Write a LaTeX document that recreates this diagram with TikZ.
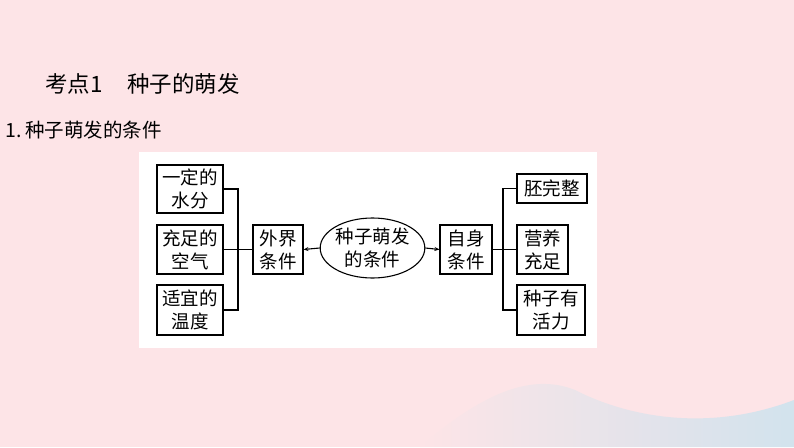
\documentclass[tikz,border=0pt]{standalone}
\usepackage{fontspec}
\setmainfont{Noto Sans CJK SC}
\usetikzlibrary{arrows.meta}
\usetikzlibrary{shapes.geometric}
\usepackage{xcolor}
\definecolor{pinkBg}{HTML}{FDE4E7}
\definecolor{blueBg}{HTML}{D2E3ED}

\begin{document}
\begin{tikzpicture}[
    x=1pt, y=-1pt,
    box/.style={draw, line width=1.1pt, inner sep=0pt, align=center,
        font=\fontsize{18.5}{23}\selectfont},
    oval/.style={ellipse, draw, line width=1.1pt, inner sep=0pt, align=center,
        minimum width=101pt, minimum height=60pt,
        font=\fontsize{18.5}{23}\selectfont},
    link/.style={line width=1.1pt},
    arr/.style={-{Stealth[length=5pt,width=4pt]}, line width=1.1pt},
]
\useasboundingbox (0,0) rectangle (794,447);

% Background
\fill[pinkBg] (0,0) rectangle (794,447);
\shade[left color=pinkBg, right color=blueBg] (420,447) .. controls (480,395) and (530,372) .. (575,390)
    .. controls (630,418) and (710,432) .. (794,400) -- (794,447) -- cycle;
\fill[white] (139,152) rectangle (597,348);

% Headings
\node[anchor=west, inner sep=0pt, font=\fontsize{22.5}{26}\selectfont] (title) at (45,84) {考点1\hspace{1.1em}种子的萌发};
\node[anchor=west, inner sep=0pt, font=\fontsize{19.5}{22}\selectfont] (sub) at (5,130) {1.\hspace{0.2em}种子萌发的条件};

% Outside factors
\node[box, minimum width=66pt, minimum height=48pt] (water) at (190,189) {一定的\\水分};
\node[box, minimum width=66pt, minimum height=49pt] (air) at (190,249.5) {充足的\\空气};
\node[box, minimum width=66pt, minimum height=50pt] (temp) at (190,310) {适宜的\\温度};
\node[box, minimum width=50pt, minimum height=49pt] (outer) at (278,249.5) {外界\\条件};

% Centre
\node[oval] (seed) at (372.5,248) {种子萌发\\的条件};

% Own factors
\node[box, minimum width=52pt, minimum height=49pt] (inner) at (466,249.5) {自身\\条件};
\node[box, minimum width=70pt, minimum height=29pt] (embryo) at (552,188.5) {胚完整};
\node[box, minimum width=51pt, minimum height=49pt] (food) at (542.5,249.5) {营养\\充足};
\node[box, minimum width=68pt, minimum height=50pt] (alive) at (551,310) {种子有\\活力};

% Left bracket
\coordinate (lt) at (238,189);
\coordinate (lb) at (238,310);
\draw[link] (water.east) -- (lt) -- (lb) -- (temp.east);
\draw[link] (air.east) -- (outer.west);

% Right bracket
\coordinate (rt) at (503,188.5);
\coordinate (rb) at (503,310);
\draw[link] (embryo.west) -- (rt) -- (rb) -- (alive.west);
\draw[link] (inner.east) -- (food.west);

% Arrows
\draw[arr] (seed.west) -- (outer.east);
\draw[arr] (seed.east) -- (inner.west);

\end{tikzpicture}
\end{document}
